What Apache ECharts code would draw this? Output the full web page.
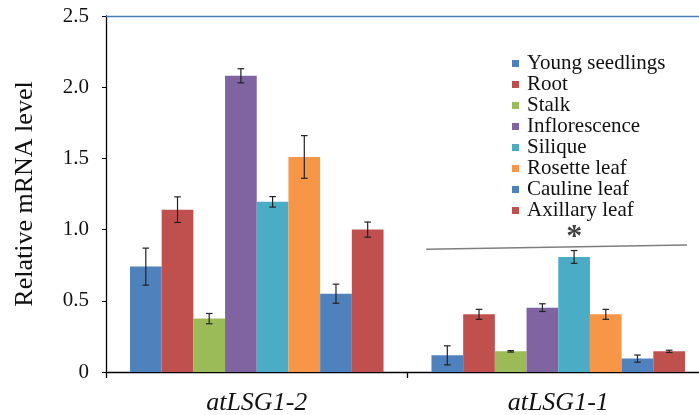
<!DOCTYPE html>
<html>
<head>
<meta charset="utf-8">
<script src="https://cdn.jsdelivr.net/npm/echarts@6/dist/echarts.min.js"></script>
<style>
html,body{margin:0;padding:0;background:#fff;}
#chart{width:699px;height:415px;}
</style>
</head>
<body>
<div id="chart"></div>
<script>
// ---- data ----
var categories = ['atLSG1-2', 'atLSG1-1'];
var tissues = ['Young seedlings', 'Root', 'Stalk', 'Inflorescence', 'Silique', 'Rosette leaf', 'Cauline leaf', 'Axillary leaf'];
var colors = ['#4f81bd', '#c0504d', '#9bbb59', '#8064a2', '#4bacc6', '#f79646', '#4f81bd', '#c0504d'];
// values per tissue: [atLSG1-2, atLSG1-1]
var youngSeedlings = [0.74, 0.117];
var root = [1.14, 0.405];
var stalk = [0.375, 0.145];
var inflorescence = [2.08, 0.452];
var silique = [1.195, 0.808];
var rosetteLeaf = [1.51, 0.405];
var caulineLeaf = [0.55, 0.094];
var axillaryLeaf = [1.0, 0.145];
// standard errors per tissue
var errYoung = [0.13, 0.067];
var errRoot = [0.09, 0.035];
var errStalk = [0.036, 0.005];
var errInflor = [0.05, 0.027];
var errSilique = [0.037, 0.045];
var errRosette = [0.15, 0.035];
var errCauline = [0.067, 0.025];
var errAxillary = [0.053, 0.008];
// significance bracket over atLSG1-1 (x in category units 0..2)
var sigLine = [[1.062, 0.862], [1.927, 0.892]];
var sigMark = [[1.553, 0.94]];
var yTicks = [0, 0.5, 1.0, 1.5, 2.0, 2.5];

var values = [youngSeedlings, root, stalk, inflorescence, silique, rosetteLeaf, caulineLeaf, axillaryLeaf];
var errors = [errYoung, errRoot, errStalk, errInflor, errSilique, errRosette, errCauline, errAxillary];
var gapFrac = 0.159;

var serif = '"Liberation Serif", "Times New Roman", serif';

var series = tissues.map(function (name, i) {
  var s = {
    name: name,
    type: 'bar',
    data: values[i],
    itemStyle: { color: colors[i] },
    barGap: '0%',
    barCategoryGap: (gapFrac * 100) + '%',
    emphasis: { disabled: true }
  };
  if (i === 0) {
    s.markLine = {
      silent: true,
      symbol: 'none',
      label: { show: false },
      lineStyle: { color: '#4a7ebb', width: 1.3, type: 'solid' },
      data: [{ yAxis: yTicks[yTicks.length - 1] }]
    };
  }
  return s;
});

var errData = [];
for (var i = 0; i < tissues.length; i++) {
  for (var c = 0; c < categories.length; c++) {
    errData.push([c, i, values[i][c] - errors[i][c], values[i][c] + errors[i][c]]);
  }
}

series.push({
  type: 'custom',
  name: 'err',
  silent: true,
  z: 10,
  renderItem: function (params, api) {
    var c = api.value(0), idx = api.value(1);
    var band = api.size([1, 0])[0];
    var bw = band * (1 - gapFrac) / tissues.length;
    var center = api.coord([c, 0])[0];
    var x = center + (idx - (tissues.length - 1) / 2) * bw;
    var lo = api.coord([c, api.value(2)])[1];
    var hi = api.coord([c, api.value(3)])[1];
    var cap = 3.3;
    var st = { stroke: '#222', lineWidth: 1.2 };
    return {
      type: 'group',
      children: [
        { type: 'line', shape: { x1: x, y1: hi, x2: x, y2: lo }, style: st },
        { type: 'line', shape: { x1: x - cap, y1: hi, x2: x + cap, y2: hi }, style: st },
        { type: 'line', shape: { x1: x - cap, y1: lo, x2: x + cap, y2: lo }, style: st }
      ]
    };
  },
  encode: { x: 0, y: 2 },
  data: errData
});

series.push({
  type: 'line',
  name: 'sig',
  xAxisIndex: 1,
  data: sigLine,
  symbol: 'none',
  silent: true,
  lineStyle: { color: '#7f7f7f', width: 1.3 },
  z: 5
});
series.push({
  type: 'scatter',
  name: 'sigStar',
  xAxisIndex: 1,
  data: sigMark,
  symbolSize: 0,
  silent: true,
  label: {
    show: true,
    position: 'inside',
    formatter: '*',
    fontFamily: serif,
    fontSize: 32,
    fontWeight: 'bold',
    color: '#111'
  }
});

var chart = echarts.init(document.getElementById('chart'), null, { renderer: 'canvas' });
chart.setOption({
  animation: false,
  backgroundColor: '#ffffff',
  grid: { left: 106, top: 16, width: 603, height: 356, containLabel: false, outerBoundsMode: 'none' },
  legend: {
    data: tissues,
    orient: 'vertical',
    left: 507,
    top: 48,
    itemWidth: 7,
    itemHeight: 7,
    itemGap: 0,
    icon: 'rect',
    selectedMode: false,
    textStyle: {
      fontFamily: serif,
      fontSize: 21,
      lineHeight: 20.7,
      color: '#111',
      padding: [0, 0, 0, 3]
    }
  },
  xAxis: [{
    type: 'category',
    data: categories,
    axisLine: { lineStyle: { color: '#000', width: 1.3 } },
    axisTick: { show: true, length: 6, lineStyle: { color: '#000', width: 1.3 } },
    axisLabel: {
      fontFamily: serif,
      fontStyle: 'italic',
      fontSize: 26,
      color: '#111',
      margin: 18
    }
  }, {
    type: 'value',
    min: 0,
    max: 2,
    show: false
  }],
  yAxis: {
    type: 'value',
    min: 0,
    max: 2.5,
    interval: 0.5,
    name: 'Relative mRNA level',
    nameLocation: 'middle',
    nameGap: 68,
    nameTextStyle: { fontFamily: serif, fontSize: 26, color: '#111' },
    axisLine: { show: true, lineStyle: { color: '#000', width: 1.3 } },
    axisTick: { show: true, length: 4, lineStyle: { color: '#000', width: 1 } },
    splitLine: { show: false },
    axisLabel: {
      fontFamily: serif,
      fontSize: 21,
      color: '#111',
      margin: 17,
      formatter: function (v) { return v === 0 ? '0' : v.toFixed(1); }
    }
  },
  series: series
});
</script>
</body>
</html>
